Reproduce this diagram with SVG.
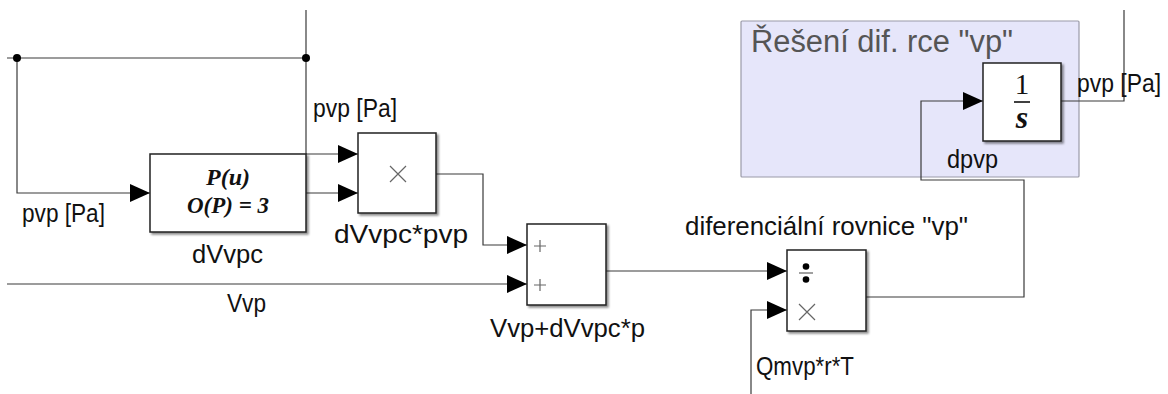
<svg xmlns="http://www.w3.org/2000/svg" width="1168" height="394" viewBox="0 0 1168 394">
  <defs>
    <filter id="shadow" x="-10%" y="-10%" width="130%" height="130%">
      <feDropShadow dx="2" dy="2" stdDeviation="1.2" flood-color="#000" flood-opacity="0.45"/>
    </filter>
    <marker id="arrow" markerWidth="20" markerHeight="20" refX="20" refY="10" orient="auto" markerUnits="userSpaceOnUse">
      <path d="M0,1 L20,10 L0,19 Z" fill="#000"/>
    </marker>
    <style>
      .wire { fill: none; stroke: #3a3a3a; stroke-width: 1.2; }
      .wire-in { fill: none; stroke: #3a3a3a; stroke-width: 1.2; marker-end: url(#arrow); }
      .block { fill: #fff; stroke: #222; stroke-width: 1.5; filter: url(#shadow); }
      .lbl { font-family: "Liberation Sans", Arial, sans-serif; font-size: 26px; fill: #111; }
      .math { font-family: "Liberation Serif", "Times New Roman", serif; font-style: italic; font-weight: bold; fill: #111; }
      .glyph { fill: none; stroke: #666; stroke-width: 1.2; }
      .dot { fill: #000; }
    </style>
  </defs>

  <!-- subsystem area -->
  <g id="area-reseni">
    <rect x="741" y="21" width="338" height="156" fill="#e6e6fa" stroke="#9a9aa8" stroke-width="1.2" rx="1"/>
    <text x="751" y="52" font-family="Liberation Sans, Arial, sans-serif" font-size="31" fill="#555" textLength="262" lengthAdjust="spacingAndGlyphs">Řešení dif. rce "vp"</text>
  </g>

  <!-- connectors -->
  <g id="connectors">
    <!-- feedback bus of pvp -->
    <path class="wire" d="M7,58 H306"/>
    <path class="wire" d="M306,10 V154"/>
    <path class="wire-in" d="M306,154 H358"/>
    <path class="wire-in" d="M17,58 V193 H150"/>
    <circle class="dot" cx="17" cy="58" r="4"/>
    <circle class="dot" cx="306" cy="58" r="4"/>
    <!-- polynomial to product -->
    <path class="wire-in" d="M306,193 H358"/>
    <!-- product to sum -->
    <path class="wire-in" d="M436,174 H483 V245 H527"/>
    <!-- Vvp to sum -->
    <path class="wire-in" d="M7,284 H527"/>
    <!-- sum to divide -->
    <path class="wire-in" d="M606,271 H787"/>
    <!-- Qmvp*r*T to divide -->
    <path class="wire-in" d="M751,394 V310 H787"/>
    <!-- divide to integrator -->
    <path class="wire-in" d="M866,297 H1024 V180 H921 V101 H983"/>
    <!-- integrator output -->
    <path class="wire" d="M1061,101 H1124 V10"/>
  </g>

  <!-- polynomial block -->
  <g id="dVvpc">
    <rect class="block" x="150" y="154" width="156" height="78"/>
    <text class="math" x="228" y="185" font-size="24" text-anchor="middle">P(u)</text>
    <text class="math" x="228" y="213" font-size="24" text-anchor="middle" textLength="82" lengthAdjust="spacingAndGlyphs">O(P) = 3</text>
    <text class="lbl" x="192" y="263" textLength="71" lengthAdjust="spacingAndGlyphs">dVvpc</text>
  </g>

  <!-- product block -->
  <g id="product">
    <rect class="block" x="358" y="133" width="78" height="80"/>
    <path class="glyph" d="M390,166 L406,182 M406,166 L390,182"/>
    <text class="lbl" x="334" y="243" textLength="134" lengthAdjust="spacingAndGlyphs">dVvpc*pvp</text>
  </g>

  <!-- sum block -->
  <g id="sum">
    <rect class="block" x="527" y="224" width="79" height="81"/>
    <path class="glyph" d="M534,246 H546 M540,240 V252 M534,285 H546 M540,279 V291"/>
    <text class="lbl" x="490" y="337" textLength="155" lengthAdjust="spacingAndGlyphs">Vvp+dVvpc*p</text>
  </g>

  <!-- divide block -->
  <g id="divide">
    <rect class="block" x="787" y="250" width="79" height="81"/>
    <circle class="dot" cx="806" cy="266.5" r="3.3"/>
    <path d="M799,273 H813" stroke="#777" stroke-width="1.4"/>
    <circle class="dot" cx="806" cy="279.5" r="3.3"/>
    <path class="glyph" d="M799,304 L815,320 M815,304 L799,320"/>
    <text class="lbl" x="685" y="235" textLength="283" lengthAdjust="spacingAndGlyphs">diferenciální rovnice "vp"</text>
  </g>

  <!-- integrator block -->
  <g id="integrator">
    <rect class="block" x="983" y="63" width="78" height="78"/>
    <text x="1022" y="94" font-family="Liberation Serif, 'Times New Roman', serif" font-size="29" text-anchor="middle" fill="#111">1</text>
    <path d="M1014,102 H1030" stroke="#111" stroke-width="1.6"/>
    <text class="math" x="1022" y="128" font-size="32" text-anchor="middle">s</text>
  </g>

  <!-- signal labels -->
  <g id="labels">
    <text class="lbl" x="22" y="222" textLength="83" lengthAdjust="spacingAndGlyphs">pvp [Pa]</text>
    <text class="lbl" x="313" y="117" textLength="84" lengthAdjust="spacingAndGlyphs">pvp [Pa]</text>
    <text class="lbl" x="227" y="312" textLength="39" lengthAdjust="spacingAndGlyphs">Vvp</text>
    <text class="lbl" x="756" y="375" textLength="98" lengthAdjust="spacingAndGlyphs">Qmvp*r*T</text>
    <text class="lbl" x="947" y="168" textLength="51" lengthAdjust="spacingAndGlyphs">dpvp</text>
    <text class="lbl" x="1077" y="92" textLength="84" lengthAdjust="spacingAndGlyphs">pvp [Pa]</text>
  </g>
</svg>
